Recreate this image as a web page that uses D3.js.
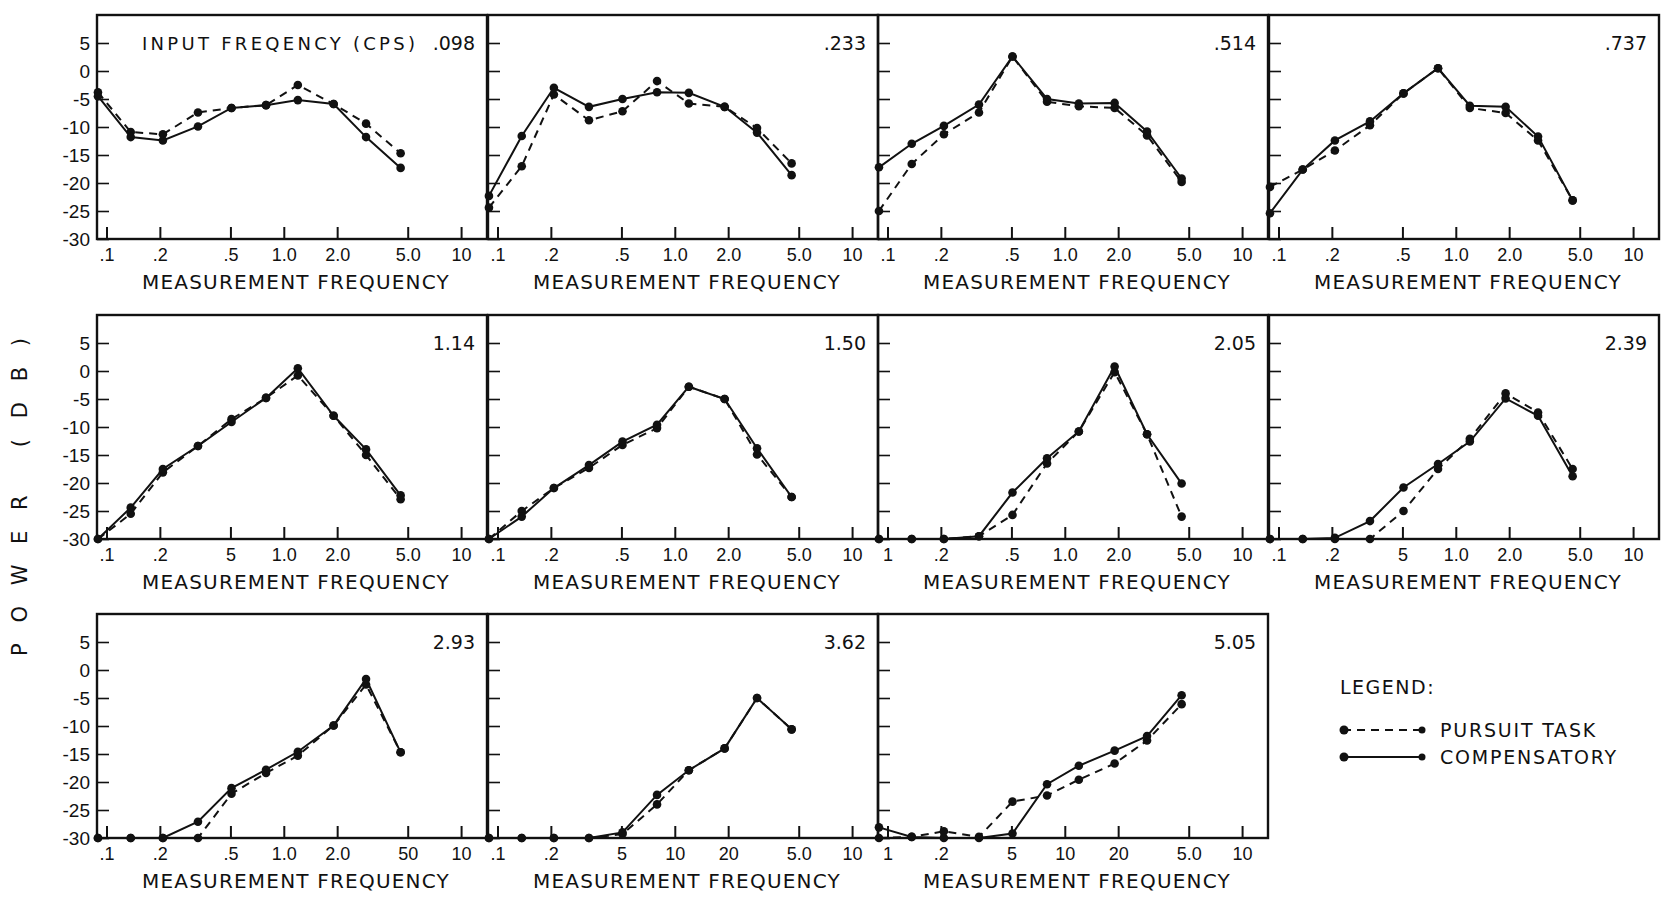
<!DOCTYPE html>
<html>
<head>
<meta charset="utf-8">
<script src="https://cdn.jsdelivr.net/npm/d3@7"></script>
<style>
  body { margin: 0; background: #fff; }
  svg { display: block; font-family: "DejaVu Sans", sans-serif; }
  .tick text { fill: #111; }
</style>
</head>
<body>
<div id="okvir"></div>
<script>
// measurement frequencies (cps), same for every panel
const measFreq = [0.0895, 0.137, 0.208, 0.328, 0.507, 0.794, 1.20, 1.91, 2.91, 4.56]

// input frequency of each panel
const inputFreq = [".098", ".233", ".514", ".737", "1.14", "1.50", "2.05", "2.39", "2.93", "3.62", "5.05"]

// power (db), compensatory task - one row per panel
const compDb = [
  [-4.5, -11.8, -12.4, -9.9, -6.6, -6.1, -5.2, -5.9, -11.8, -17.3],
  [-22.3, -11.6, -3.0, -6.4, -5.0, -3.8, -3.9, -6.4, -11.0, -18.6],
  [-17.2, -13.0, -9.8, -6.0, 2.6, -5.0, -5.8, -5.7, -10.8, -19.2],
  [-25.4, -17.6, -12.4, -9.0, -4.0, 0.5, -6.2, -6.4, -11.7, -23.1],
  [-30, -24.4, -17.5, -13.4, -9.1, -4.8, 0.5, -8.0, -14.0, -22.2],
  [-30, -26.0, -20.9, -16.8, -12.6, -9.6, -2.8, -5.0, -13.8, -22.5],
  [-30, -30, -30, -29.5, -21.7, -15.6, -10.8, 0.8, -11.3, -20.1],
  [-30, -30, -29.8, -26.8, -20.8, -16.6, -12.6, -4.9, -8.0, -18.8],
  [-30, -30, -30, -27.1, -21.1, -17.8, -14.6, -9.9, -1.6, -14.7],
  [-30, -30, -30, -30, -29.0, -22.3, -17.9, -14.0, -5.0, -10.6],
  [-28.1, -29.8, -30, -30, -29.2, -20.4, -17.1, -14.4, -11.8, -4.5],
]

// power (db), pursuit task
const pursDb = [
  [-3.8, -10.9, -11.3, -7.4, -6.6, -6.1, -2.5, -5.9, -9.4, -14.7],
  [-24.4, -17.0, -4.2, -8.8, -7.2, -1.8, -5.8, -6.4, -10.2, -16.5],
  [-25.0, -16.6, -11.3, -7.4, 2.6, -5.5, -6.3, -6.6, -11.5, -19.8],
  [-20.7, -17.6, -14.2, -9.7, -4.0, 0.5, -6.6, -7.5, -12.4, -23.1],
  [-30, -25.5, -18.1, -13.4, -8.6, -4.8, -0.8, -8.0, -15.0, -22.9],
  [-30, -25.0, -20.9, -17.3, -13.2, -10.2, -2.8, -5.0, -14.9, -22.5],
  [-30, -30, -30, -29.5, -25.7, -16.5, -10.8, -0.2, -11.3, -26.0],
  [-30, -30, -30, -30, -25.0, -17.5, -12.1, -4.0, -7.4, -17.5],
  [-30, -30, -30, -30, -22.1, -18.4, -15.3, -9.9, -2.6, -14.7],
  [-30, -30, -30, -30, -29.3, -24.0, -17.9, -14.0, -5.0, -10.6],
  [-30, -29.8, -28.8, -29.8, -23.5, -22.4, -19.6, -16.7, -12.6, -6.1],
]

// axis ticks
const xTicks = [0.1, 0.2, 0.5, 1, 2, 5, 10]
const xLabels = [".1", ".2", ".5", "1.0", "2.0", "5.0", "10"]
// the printed labels differ a bit from panel to panel
const xLabelsPanel = [
  xLabels, xLabels, xLabels, xLabels,
  [".1", ".2", "5", "1.0", "2.0", "5.0", "10"],
  xLabels,
  ["1", ".2", ".5", "1.0", "2.0", "5.0", "10"],
  [".1", ".2", "5", "1.0", "2.0", "5.0", "10"],
  [".1", ".2", ".5", "1.0", "2.0", "50", "10"],
  [".1", ".2", "5", "10", "20", "5.0", "10"],
  ["1", ".2", "5", "10", "20", "5.0", "10"],
]
const yTicks = [5, 0, -5, -10, -15, -20, -25, -30]

const legendItems = [
  { label: "PURSUIT TASK", dash: "8,6" },
  { label: "COMPENSATORY", dash: null },
]

// layout
const sirina = 1662
const visina = 899
const panW = 390
const panH = 224
const colX = [97, 488, 878, 1269]
const rowY = [15, 315, 614]

const okvir = d3.select("#okvir")
  .append("svg")
    .attr("width", sirina)
    .attr("height", visina)

const xSkala = d3.scaleLog()
  .domain([0.0884, 14.0])
  .range([0, panW])

const ySkala = d3.scaleLinear()
  .domain([-30, 10])
  .range([panH, 0])

const linija = d3.line()
  .x((d, i) => xSkala(measFreq[i]))
  .y(d => ySkala(d))

inputFreq.forEach((label, p) => {
  const col = p % 4
  const row = Math.floor(p / 4)
  const g = okvir.append("g")
    .attr("transform", `translate(${colX[col]},${rowY[row]})`)

  // x axis (ticks inside)
  const xOs = g.append("g")
    .attr("transform", `translate(0,${panH})`)
    .call(d3.axisBottom(xSkala)
      .tickValues(xTicks)
      .tickFormat((d, i) => xLabelsPanel[p][i])
      .tickSizeInner(-12)
      .tickSizeOuter(0)
      .tickPadding(9))
  xOs.select(".domain").remove()
  xOs.selectAll("line").attr("stroke", "#111").attr("stroke-width", 2)
  xOs.selectAll("text").attr("font-size", 18)

  // y axis
  const yOs = g.append("g")
    .call(d3.axisLeft(ySkala)
      .tickValues(yTicks)
      .tickFormat(d => col === 0 ? d : "")
      .tickSizeInner(-12)
      .tickSizeOuter(0)
      .tickPadding(7))
  yOs.select(".domain").remove()
  yOs.selectAll("line").attr("stroke", "#111").attr("stroke-width", 1.6)
  yOs.selectAll("text").attr("font-size", 19)

  // frame
  g.append("rect")
    .attr("width", panW)
    .attr("height", panH)
    .attr("fill", "none")
    .attr("stroke", "#111")
    .attr("stroke-width", 2.4)

  // x axis title
  g.append("text")
    .attr("x", panW / 2 + 4)
    .attr("y", panH + 50)
    .attr("text-anchor", "middle")
    .attr("font-size", 20)
    .attr("letter-spacing", 1.2)
    .attr("fill", "#111")
    .text("MEASUREMENT FREQUENCY")

  // input frequency label
  g.append("text")
    .attr("x", panW - 12)
    .attr("y", 35)
    .attr("text-anchor", "end")
    .attr("font-size", 19)
    .attr("fill", "#111")
    .text(label)
  if (p === 0) {
    g.append("text")
      .attr("x", 45)
      .attr("y", 35)
      .attr("font-size", 18)
      .attr("textLength", 273)
      .attr("lengthAdjust", "spacing")
      .attr("fill", "#111")
      .text("INPUT FREQENCY (CPS)")
  }

  // series
  const serije = [
    { data: pursDb[p], dash: "8,6" },
    { data: compDb[p], dash: null },
  ]
  serije.forEach(s => {
    g.append("path")
      .datum(s.data)
      .attr("d", linija)
      .attr("fill", "none")
      .attr("stroke", "#111")
      .attr("stroke-width", 2)
      .attr("stroke-dasharray", s.dash)
    g.selectAll(null)
      .data(s.data)
      .join("circle")
        .attr("cx", (d, i) => xSkala(measFreq[i]))
        .attr("cy", d => ySkala(d))
        .attr("r", 4.3)
        .attr("fill", "#111")
  })
})

// y axis title
okvir.append("text")
  .attr("transform", "translate(27,497) rotate(-90)")
  .attr("text-anchor", "middle")
  .attr("font-size", 21)
  .attr("textLength", 318)
  .attr("lengthAdjust", "spacing")
  .attr("fill", "#111")
  .text("POWER (DB)")

// legend
const legenda = okvir.append("g")
  .attr("transform", "translate(1340,694)")
legenda.append("text")
  .attr("font-size", 19)
  .attr("letter-spacing", 1.5)
  .attr("fill", "#111")
  .text("LEGEND:")
legendItems.forEach((item, i) => {
  const yy = 36 + i * 27
  legenda.append("line")
    .attr("x1", 3).attr("x2", 82)
    .attr("y1", yy).attr("y2", yy)
    .attr("stroke", "#111")
    .attr("stroke-width", 2)
    .attr("stroke-dasharray", item.dash)
  legenda.append("circle").attr("cx", 4).attr("cy", yy).attr("r", 4.5).attr("fill", "#111")
  legenda.append("circle").attr("cx", 82).attr("cy", yy).attr("r", 3.5).attr("fill", "#111")
  legenda.append("text")
    .attr("x", 100)
    .attr("y", yy + 7)
    .attr("font-size", 19)
    .attr("letter-spacing", 1.8)
    .attr("fill", "#111")
    .text(item.label)
})
</script>
</body>
</html>
